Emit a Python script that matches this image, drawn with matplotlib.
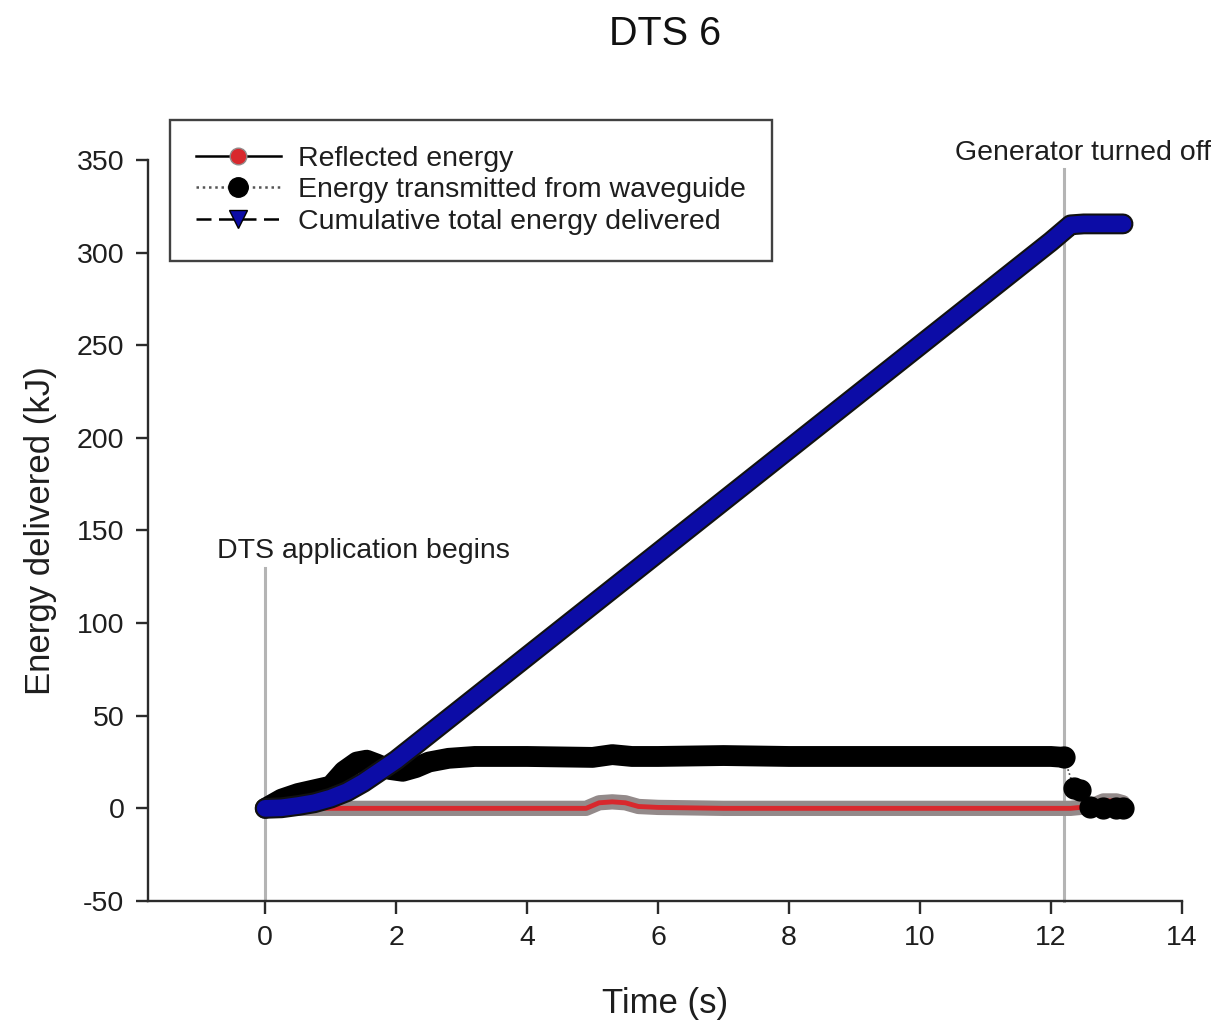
import matplotlib
matplotlib.use("Agg")
import matplotlib.pyplot as plt
import matplotlib.patheffects as pe
from matplotlib.lines import Line2D

plt.rcParams['font.family'] = ['Liberation Sans', 'DejaVu Sans']
plt.rcParams['axes.unicode_minus'] = False

# Reflected energy (kJ)
t_reflected = [0.0, 0.5, 1.0, 2.0, 3.0, 4.0, 4.9, 5.1, 5.3, 5.5, 5.7, 6.0, 7.0, 8.0,
               9.0, 10.0, 11.0, 12.0, 12.3, 12.6, 12.8, 13.0, 13.1]
e_reflected = [0.0, 0.0, 0.0, 0.0, 0.0, 0.0, 0.0, 3.0, 3.5, 3.0, 1.0, 0.5, 0.0, 0.0,
               0.0, 0.0, 0.0, 0.0, 0.0, 1.0, 4.0, 4.0, 3.0]

# Energy transmitted from waveguide (kJ)
t_transmitted = [0.0, 0.1, 0.25, 0.5, 0.75, 1.0, 1.2, 1.4, 1.55, 1.7, 1.9, 2.1, 2.3,
                 2.5, 2.8, 3.2, 4.0, 5.0, 5.3, 5.6, 6.0, 7.0, 8.0, 9.0, 10.0, 11.0,
                 12.0, 12.2, 12.35, 12.45, 12.6, 12.8, 13.0, 13.1]
e_transmitted = [0.0, 2.0, 5.0, 8.0, 10.0, 12.0, 20.0, 25.0, 26.0, 24.0, 21.0, 20.0,
                 22.0, 25.0, 27.0, 28.0, 28.0, 27.5, 29.0, 28.0, 28.0, 28.5, 28.0,
                 28.0, 28.0, 28.0, 28.0, 27.5, 11.0, 10.0, 0.5, 0.0, 0.0, 0.0]

# Cumulative total energy delivered (kJ)
t_cumulative = [0.0, 0.25, 0.5, 0.75, 1.0, 1.25, 1.5, 1.75, 2.0, 2.5, 3.0, 3.5, 4.0,
                4.5, 5.0, 5.5, 6.0, 6.5, 7.0, 7.5, 8.0, 8.5, 9.0, 9.5, 10.0, 10.5,
                11.0, 11.5, 12.0, 12.2, 12.3, 12.5, 13.1]
e_cumulative = [0.0, 0.3, 1.5, 3.0, 5.5, 9.0, 14.0, 20.0, 26.0, 40.0, 54.0, 68.0, 82.0,
                96.0, 110.0, 124.0, 138.0, 152.0, 166.0, 180.0, 194.0, 208.0, 222.0,
                236.0, 250.0, 264.0, 278.0, 292.0, 306.0, 312.0, 315.0, 315.5, 315.5]

x_ticks = [0, 2, 4, 6, 8, 10, 12, 14]
y_ticks = [-50, 0, 50, 100, 150, 200, 250, 300, 350]

start_time = 0.0
stop_time = 12.2

fig = plt.figure(figsize=(12.27, 10.23), dpi=100)
ax = fig.add_axes([0.1206, 0.1193, 0.8427, 0.7243])

spine_col = '#2b2b2b'
grey_ref = '#b4b4b4'
text_col = '#1e1e1e'

# reference lines for start / stop
ax.plot([start_time, start_time], [-50, 130], color=grey_ref, lw=2.2, zorder=1)
ax.plot([stop_time, stop_time], [-50, 345], color=grey_ref, lw=2.2, zorder=1,
        clip_on=False)

# densely sampled series drawn as marker bands
red_col = '#d8282d'
ax.plot(t_reflected, e_reflected, color=red_col, lw=3.5, solid_capstyle='round',
        solid_joinstyle='round', zorder=2,
        path_effects=[pe.Stroke(linewidth=11, foreground='#938a8a'), pe.Normal()])

# transmitted: continuous band while the generator is on, separate points after
n_on = sum(1 for t in t_transmitted if t <= stop_time)
ax.plot(t_transmitted[:n_on], e_transmitted[:n_on], color='black', lw=15,
        solid_capstyle='round', solid_joinstyle='round', zorder=3)
ax.plot(t_transmitted[n_on - 1:], e_transmitted[n_on - 1:], color='#444444', lw=1.2,
        ls=(0, (1, 1.5)), marker='o', markersize=15, markerfacecolor='black',
        markeredgecolor='black', zorder=3)

blue_col = '#0c0ca6'
ax.plot(t_cumulative, e_cumulative, color=blue_col, lw=12, solid_capstyle='round',
        solid_joinstyle='round', zorder=4,
        path_effects=[pe.Stroke(linewidth=15, foreground='#111111'), pe.Normal()])

ax.set_xlim(-1.79, 14)
ax.set_ylim(-50, 350)
ax.set_xticks(x_ticks)
ax.set_yticks(y_ticks)
ax.tick_params(axis='both', direction='out', length=9, width=1.7, color=spine_col,
               labelsize=20.5, pad=8, labelcolor=text_col)
for side in ['top', 'right']:
    ax.spines[side].set_visible(False)
for side in ['left', 'bottom']:
    ax.spines[side].set_linewidth(1.7)
    ax.spines[side].set_color(spine_col)

ax.set_xlabel('Time (s)', fontsize=25, labelpad=26, color=text_col)
ax.set_ylabel('Energy delivered (kJ)', fontsize=25, labelpad=14, color=text_col)
fig.text(0.542, 0.967, 'DTS 6', ha='center', va='center', fontsize=28.5, color='#111111')

ax.text(-0.73, 139, 'DTS application begins', fontsize=20.5, ha='left', va='center',
        color=text_col)
ax.text(10.53, 354, 'Generator turned off', fontsize=20.5, ha='left', va='center',
        color=text_col, clip_on=False)

handles = [
    Line2D([], [], color='black', lw=1.8, ls='-', marker='o', markersize=12,
           markerfacecolor=red_col, markeredgecolor='#938a8a'),
    Line2D([], [], color='#555555', lw=1.8, ls=(0, (1, 1.5)), marker='o', markersize=14,
           markerfacecolor='black', markeredgecolor='black'),
    Line2D([], [], color='black', lw=1.8, ls=(0, (6, 3)), marker='v', markersize=13,
           markerfacecolor=blue_col, markeredgecolor='black'),
]
labels = ['Reflected energy', 'Energy transmitted from waveguide',
          'Cumulative total energy delivered']
leg = ax.legend(handles, labels, loc='upper left', bbox_to_anchor=(0.0213, 1.054),
                borderaxespad=0, fontsize=20.5, handlelength=3.0, handletextpad=0.6,
                labelspacing=0.2, borderpad=0.9, frameon=True, fancybox=False)
leg.get_frame().set_edgecolor('#111111')
leg.get_frame().set_linewidth(1.7)
for txt in leg.get_texts():
    txt.set_color(text_col)

fig.savefig('out.png', dpi=100)
